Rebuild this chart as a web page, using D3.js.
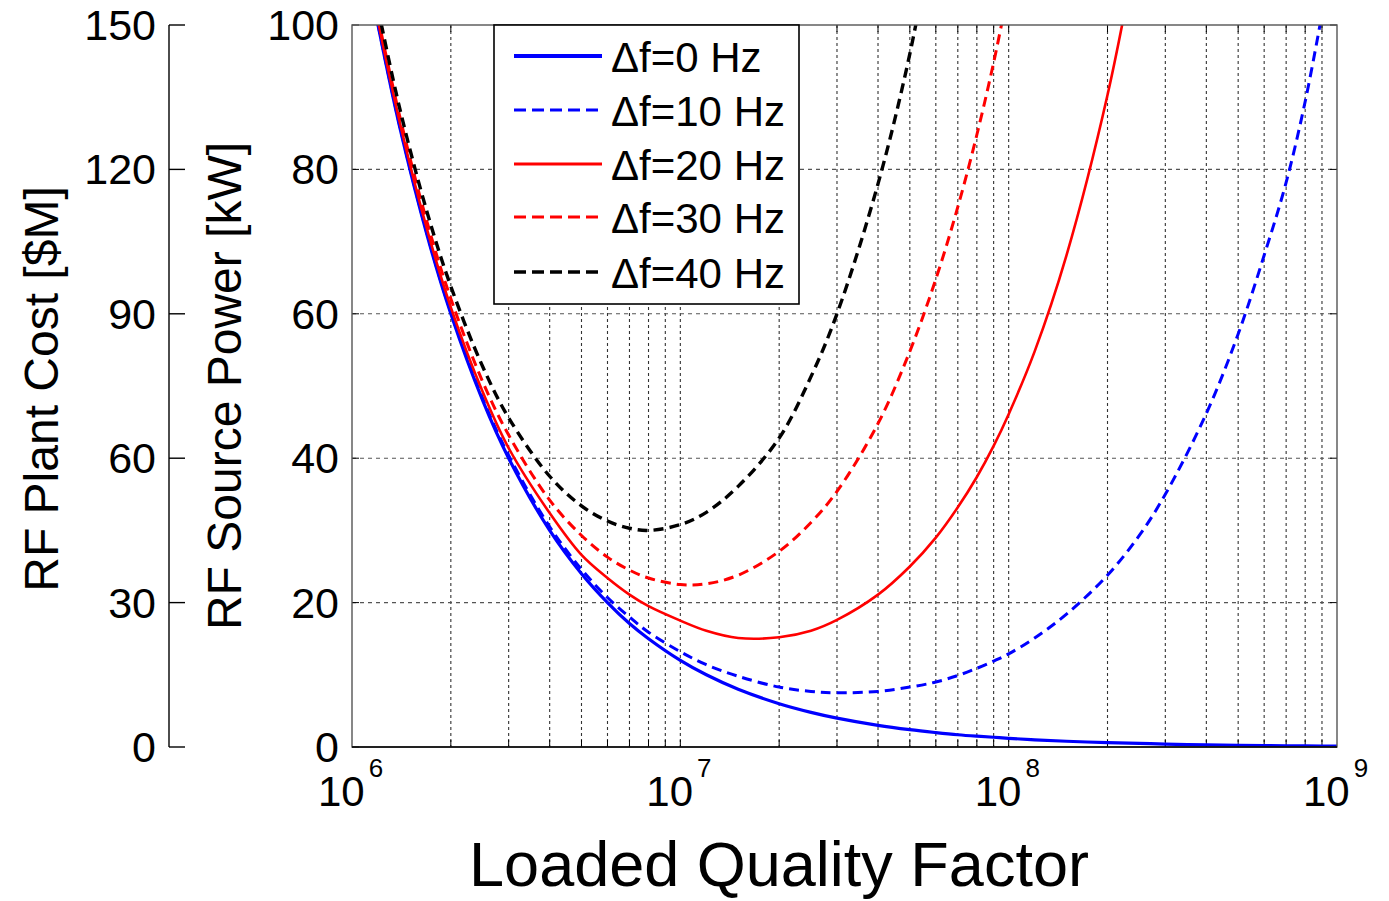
<!DOCTYPE html>
<html>
<head>
<meta charset="utf-8">
<script src="https://cdn.jsdelivr.net/npm/d3@7/dist/d3.min.js"></script>
<style>
  html, body { margin: 0; padding: 0; background: #fff; }
  svg { display: block; }
  text { font-family: "Liberation Sans", Arial, sans-serif; fill: #000; }
</style>
</head>
<body>
<svg id="chart" width="1389" height="901"></svg>
<script>
// ---------------- data ----------------
const qGrid = [1.2e6, 1.4e6, 1.7e6, 2e6, 2.5e6, 3e6, 4e6, 5e6, 6e6, 7e6, 8e6,
               1e7, 1.2e7, 1.5e7, 2e7, 2.5e7, 3e7, 4e7, 5e7, 6e7, 7e7, 8e7, 9e7,
               1e8, 1.2e8, 1.5e8, 2e8, 2.5e8, 3e8, 4e8, 5e8, 6e8, 7e8, 8e8, 9e8, 1e9];

const seriesNames = ["\u0394f=0 Hz", "\u0394f=10 Hz", "\u0394f=20 Hz", "\u0394f=30 Hz", "\u0394f=40 Hz"];

const power0  = [100, 85.7, 70.6, 60, 48, 40, 30, 24, 20, 17.1, 15,
                 12, 10, 8, 6, 4.8, 4, 3, 2.4, 2, 1.7, 1.5, 1.35,
                 1.2, 1.0, 0.8, 0.6, 0.5, 0.4, 0.3, 0.24, 0.2, 0.17, 0.15, 0.13, 0.12];
const power10 = [100.1, 85.9, 70.8, 60.2, 48.3, 40.4, 30.5, 24.6, 20.7, 18.0, 15.9,
                 13.2, 11.4, 9.8, 8.3, 7.7, 7.5, 7.7, 8.3, 9.0, 9.9, 10.9, 11.9,
                 12.9, 15.1, 18.4, 23.8, 29.3, 35.0, 46.2, 57.2, 68.1, 78.2, 89.4, 101.5];
const power20 = [100.6, 86.4, 71.4, 60.9, 49.2, 41.4, 32.4, 26.6, 23.4, 21.1, 19.5,
                 17.5, 16.1, 15.1, 15.2, 16.1, 17.6, 21.1, 25.0, 29.0, 33.2, 37.4, 41.7,
                 46.1, 54.8, 68.1, 90.3, 112.6];
const power30 = [101, 87.2, 72.4, 62.1, 50.6, 43.2, 34.2, 29.3, 26.3, 24.5, 23.4,
                 22.5, 22.6, 23.8, 27.1, 31.1, 35.4, 44.8, 54.8, 64.8, 74.8, 84.8, 94.8,
                 105];
const power40 = [102.3, 88.3, 73.8, 63.8, 52.7, 45.6, 37.5, 33.4, 31.3, 30.3, 30.0,
                 30.8, 32.5, 36.1, 42.8, 51.3, 60.0, 78.0, 96.0, 115];

const powerTicks = [0, 20, 40, 60, 80, 100];
const costTicks  = [0, 30, 60, 90, 120, 150];
const xDecades   = [6, 7, 8, 9];

// ---------------- layout / styles ----------------
const svg = d3.select("#chart");
const L = 352, R = 1337, T = 25, B = 747;

const x = d3.scaleLog().domain([1e6, 1e9]).range([L, R]);
const y = d3.scaleLinear().domain([0, 100]).range([B, T]);
const yCost = d3.scaleLinear().domain([0, 150]).range([B, T]);

const styles = [
  {color: "#0000ff", width: 3.2, dash: null,   lw: 4.2},
  {color: "#0000ff", width: 3.0, dash: "10,6", lw: 3.0},
  {color: "#ff0000", width: 2.6, dash: null,   lw: 2.8},
  {color: "#ff0000", width: 3.0, dash: "10,6", lw: 3.0},
  {color: "#000000", width: 3.4, dash: "10,6", lw: 3.4}
];
const allSeries = [power0, power10, power20, power30, power40];

// ---------------- grid ----------------
const minorQ = [];
for (let d = 6; d <= 8; d++) for (let k = 1; k <= 9; k++) {
  const v = k * Math.pow(10, d);
  if (v > 1e6 && v < 1e9) minorQ.push(v);
}
const grid = svg.append("g");
grid.selectAll("line.v").data(minorQ).join("line")
  .attr("x1", d => x(d)).attr("x2", d => x(d))
  .attr("y1", T).attr("y2", B)
  .attr("stroke", "#333").attr("stroke-width", 1.1)
  .attr("stroke-dasharray", "3,3");
grid.selectAll("line.h").data(powerTicks.filter(v => v > 0 && v < 100)).join("line")
  .attr("x1", L).attr("x2", R)
  .attr("y1", d => y(d)).attr("y2", d => y(d))
  .attr("stroke", "#555").attr("stroke-width", 1.1)
  .attr("stroke-dasharray", "4,4");

// inner ticks
const ticks = svg.append("g").attr("stroke", "#000").attr("stroke-width", 1);
ticks.selectAll("line.b").data(minorQ).join("line")
  .attr("x1", d => x(d)).attr("x2", d => x(d)).attr("y1", B).attr("y2", B - 7);
ticks.selectAll("line.t").data(minorQ).join("line")
  .attr("x1", d => x(d)).attr("x2", d => x(d)).attr("y1", T).attr("y2", T + 7);
ticks.selectAll("line.l").data(powerTicks).join("line")
  .attr("x1", L).attr("x2", L + 7).attr("y1", d => y(d)).attr("y2", d => y(d));
ticks.selectAll("line.r").data(powerTicks).join("line")
  .attr("x1", R).attr("x2", R - 7).attr("y1", d => y(d)).attr("y2", d => y(d));

// ---------------- curves ----------------
svg.append("clipPath").attr("id", "plotclip")
  .append("rect").attr("x", L).attr("y", T).attr("width", R - L).attr("height", B - T);

const line = d3.line()
  .x(d => x(d[0])).y(d => y(d[1]))
  .curve(d3.curveCatmullRom.alpha(0.5));

const curves = svg.append("g").attr("clip-path", "url(#plotclip)");
allSeries.forEach((vals, i) => {
  const pts = vals.map((v, j) => [qGrid[j], v]);
  const s = styles[i];
  curves.append("path")
    .attr("d", line(pts))
    .attr("fill", "none")
    .attr("stroke", s.color)
    .attr("stroke-width", s.width)
    .attr("stroke-dasharray", s.dash)
    .attr("stroke-linejoin", "round");
});

// ---------------- frame ----------------
svg.append("rect").attr("x", L).attr("y", T).attr("width", R - L).attr("height", B - T)
  .attr("fill", "none").attr("stroke", "#555").attr("stroke-width", 1.4);
svg.append("line").attr("x1", L).attr("x2", R).attr("y1", B).attr("y2", B)
  .attr("stroke", "#000").attr("stroke-width", 1.6);

// ---------------- y tick labels (power) ----------------
svg.append("g").selectAll("text").data(powerTicks).join("text")
  .attr("x", 339).attr("y", d => y(d) + 15)
  .attr("text-anchor", "end").attr("font-size", 43)
  .text(d => d);

// ---------------- secondary cost axis ----------------
const cost = svg.append("g");
cost.append("line").attr("x1", 169).attr("x2", 169).attr("y1", yCost(0)).attr("y2", yCost(150))
  .attr("stroke", "#000").attr("stroke-width", 1.4);
cost.selectAll("line.tk").data(costTicks).join("line")
  .attr("x1", 169).attr("x2", 185).attr("y1", d => yCost(d)).attr("y2", d => yCost(d))
  .attr("stroke", "#000").attr("stroke-width", 1.4);
cost.selectAll("text").data(costTicks).join("text")
  .attr("x", 156).attr("y", d => yCost(d) + 15)
  .attr("text-anchor", "end").attr("font-size", 43)
  .text(d => d);

// ---------------- x tick labels ----------------
const xl = svg.append("g").selectAll("text").data(xDecades).join("text")
  .attr("x", d => x(Math.pow(10, d)) - 34).attr("y", 806)
  .attr("font-size", 42);
xl.append("tspan").text("10");
xl.append("tspan").attr("dx", 4).attr("dy", -29).attr("font-size", 26).text(d => d);

// ---------------- axis titles ----------------
svg.append("text")
  .attr("transform", "translate(58,389) rotate(-90)")
  .attr("text-anchor", "middle").attr("font-size", 48)
  .text("RF Plant Cost [$M]");
svg.append("text")
  .attr("transform", "translate(241,386) rotate(-90)")
  .attr("text-anchor", "middle").attr("font-size", 48)
  .text("RF Source Power [kW]");
svg.append("text")
  .attr("x", 779).attr("y", 886)
  .attr("text-anchor", "middle").attr("font-size", 63)
  .text("Loaded Quality Factor");

// ---------------- legend ----------------
const lg = svg.append("g");
lg.append("rect").attr("x", 494).attr("y", 25).attr("width", 305).attr("height", 279)
  .attr("fill", "#fff").attr("stroke", "#000").attr("stroke-width", 1.6);
const rowBase = [72, 126, 180, 233, 288];
seriesNames.forEach((name, i) => {
  const s = styles[i];
  lg.append("line")
    .attr("x1", 514).attr("x2", 602)
    .attr("y1", rowBase[i] - 16).attr("y2", rowBase[i] - 16)
    .attr("stroke", s.color).attr("stroke-width", s.lw)
    .attr("stroke-dasharray", s.dash ? "12,6" : null);
  lg.append("text").attr("x", 611).attr("y", rowBase[i])
    .attr("font-size", 42).text(name);
});
</script>
</body>
</html>
